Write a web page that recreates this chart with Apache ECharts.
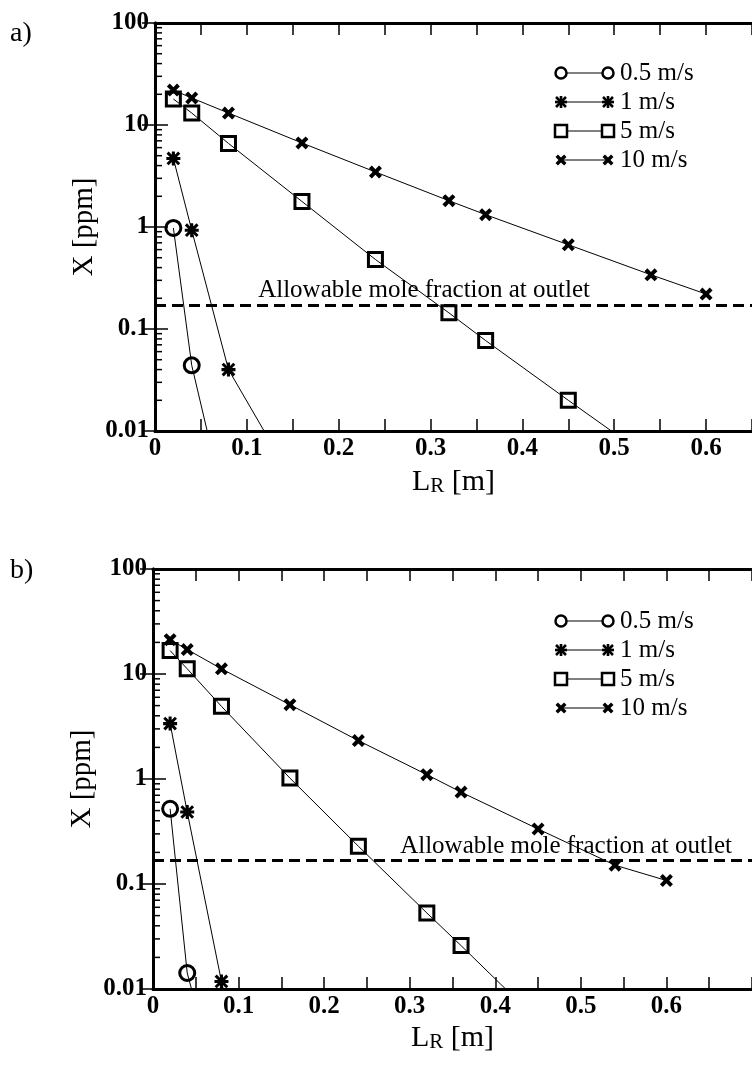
<!DOCTYPE html>
<html>
<head>
<meta charset="utf-8">
<script src="https://cdn.jsdelivr.net/npm/echarts@6/dist/echarts.min.js"></script>
<style>
  html, body { margin: 0; padding: 0; background: #fff; }
  #main { width: 752px; height: 1068px; }
</style>
</head>
<body>
<div id="main"></div>
<script>
// panel a) reactor length L_R [m] and mole fraction X [ppm]
const lr05a = [0.02, 0.04, 0.08];
const x05a = [0.98, 0.044, 0.0013];
const lr1a = [0.02, 0.04, 0.08, 0.16];
const x1a = [4.7, 0.93, 0.040, 0.0023];
const lr5a = [0.02, 0.04, 0.08, 0.16, 0.24, 0.32, 0.36, 0.45, 0.54];
const x5a = [18, 13.1, 6.6, 1.78, 0.48, 0.144, 0.077, 0.020, 0.0053];
const lr10a = [0.02, 0.04, 0.08, 0.16, 0.24, 0.32, 0.36, 0.45, 0.54, 0.6];
const x10a = [22, 18.4, 13.1, 6.67, 3.46, 1.81, 1.32, 0.67, 0.34, 0.22];

// panel b)
const lr05b = [0.02, 0.04, 0.06];
const x05b = [0.52, 0.0142, 0.0035];
const lr1b = [0.02, 0.04, 0.08, 0.16];
const x1b = [3.37, 0.485, 0.0118, 0.00002];
const lr5b = [0.02, 0.04, 0.08, 0.16, 0.24, 0.32, 0.36, 0.45];
const x5b = [16.7, 11.2, 4.92, 1.02, 0.229, 0.053, 0.0259, 0.005];
const lr10b = [0.02, 0.04, 0.08, 0.16, 0.24, 0.32, 0.36, 0.45, 0.54, 0.6];
const x10b = [21.2, 17.1, 11.2, 5.1, 2.32, 1.10, 0.75, 0.334, 0.151, 0.108];

const limitA = 0.175;
const limitB = 0.173;

const velocities = ['0.5 m/s', '1 m/s', '5 m/s', '10 m/s'];
const decades = [0.01, 0.1, 1, 10];
const minorTicks = [];
decades.forEach(d => [2, 3, 4, 5, 6, 7, 8, 9].forEach(k => minorTicks.push(+(d * k).toPrecision(2))));

const FONT = '"Liberation Serif", "DejaVu Serif", serif';

// marker outlines on a 0..10 box
const ASTER_PARTS = [
  [[3.9, 0], [6.1, 0], [6.1, 10], [3.9, 10]],
  [[0, 3.9], [10, 3.9], [10, 6.1], [0, 6.1]],
  [[1.6, 0.1], [9.9, 8.4], [8.4, 9.9], [0.1, 1.6]],
  [[9.9, 1.6], [1.6, 9.9], [0.1, 8.4], [8.4, 0.1]]
];
const CROSS_PTS = [[0, 2.2], [2.2, 0], [5, 2.8], [7.8, 0], [10, 2.2], [7.2, 5], [10, 7.8], [7.8, 10], [5, 7.2], [2.2, 10], [0, 7.8], [2.8, 5]];

function toPath(parts) {
  return 'path://' + parts.map(p => 'M' + p.map(q => q.join(' ')).join('L') + 'Z').join(' ');
}
const ASTER = toPath(ASTER_PARTS);
const CROSS = toPath([CROSS_PTS]);

const symbolStyles = [
  { symbol: 'circle', symbolSize: 15, itemStyle: { color: 'transparent', borderColor: '#000', borderWidth: 3 } },
  { symbol: ASTER, symbolSize: 14, itemStyle: { color: '#000', borderWidth: 0 } },
  { symbol: 'rect', symbolSize: 14, itemStyle: { color: 'transparent', borderColor: '#000', borderWidth: 3 } },
  { symbol: CROSS, symbolSize: 13, itemStyle: { color: '#000', borderWidth: 0 } }
];

function pairs(xs, ys) {
  return xs.map((x, i) => [x, ys[i]]);
}

function lineSeries(idx, panel, xs, ys) {
  return Object.assign({
    name: velocities[idx],
    type: 'line',
    xAxisIndex: panel * 2,
    yAxisIndex: panel * 2,
    data: pairs(xs, ys),
    lineStyle: { color: '#000', width: 1 },
    clip: true,
    z: 3
  }, symbolStyles[idx]);
}

function limitSeries(panel, value, dist) {
  return {
    type: 'line',
    xAxisIndex: panel * 2,
    yAxisIndex: panel * 2,
    data: [],
    markLine: {
      silent: true,
      symbol: 'none',
      lineStyle: { color: '#000', width: 3, type: [11, 6] },
      label: {
        show: true,
        position: 'insideEndTop',
        distance: dist,
        formatter: 'Allowable mole fraction at outlet',
        color: '#000',
        fontFamily: FONT,
        fontSize: 25
      },
      data: [{ yAxis: value }]
    }
  };
}

function minorTickSeries(panel) {
  return {
    type: 'custom',
    xAxisIndex: panel * 2,
    yAxisIndex: panel * 2,
    silent: true,
    z: 5,
    data: minorTicks.map(v => [0, v]),
    renderItem: (params, api) => {
      const p = api.coord([api.value(0), api.value(1)]);
      return {
        type: 'line',
        shape: { x1: p[0], y1: p[1], x2: p[0] + 7, y2: p[1] },
        style: { stroke: '#000', lineWidth: 1.5 }
      };
    }
  };
}

const lrName = {
  name: '{l|L}{s|R}{l| [m]}',
  nameLocation: 'middle',
  nameTextStyle: {
    rich: {
      l: { fontFamily: FONT, fontSize: 30, color: '#000', verticalAlign: 'bottom' },
      s: { fontFamily: FONT, fontSize: 21, color: '#000', verticalAlign: 'bottom' }
    }
  }
};

function xAxes(grid, max, gap) {
  const common = {
    type: 'value',
    gridIndex: grid,
    min: 0,
    max: max,
    interval: 0.1,
    splitLine: { show: false },
    axisLine: { lineStyle: { color: '#000', width: 3 } },
    axisTick: { inside: true, length: 12, lineStyle: { color: '#000', width: 1.5 } },
    minorTick: { show: true, splitNumber: 2, length: 12, lineStyle: { color: '#000', width: 1.5 } }
  };
  return [
    Object.assign({}, common, lrName, {
      position: 'bottom',
      nameGap: gap,
      axisLabel: {
        color: '#000', fontFamily: FONT, fontSize: 25, fontWeight: 'bold', margin: 5,
        showMaxLabel: false,
        formatter: v => String(+v.toFixed(2))
      }
    }),
    Object.assign({}, common, { position: 'top', axisLabel: { show: false } })
  ];
}

function yAxes(grid) {
  const common = {
    type: 'log',
    logBase: 10,
    gridIndex: grid,
    min: 0.01,
    max: 100,
    splitNumber: 4,
    splitLine: { show: false },
    axisLine: { lineStyle: { color: '#000', width: 3 } },
    axisTick: { inside: true, length: 13, lineStyle: { color: '#000', width: 1.5 } }
  };
  return [
    Object.assign({}, common, {
      position: 'left',
      name: 'X [ppm]',
      nameLocation: 'middle',
      nameGap: 56,
      nameMoveOverlap: false,
      nameTextStyle: { fontFamily: FONT, fontSize: 29, color: '#000' },
      axisLabel: {
        color: '#000', fontFamily: FONT, fontSize: 25, fontWeight: 'bold', margin: 6,
        formatter: v => String(+v.toPrecision(2))
      }
    }),
    Object.assign({}, common, { position: 'right', axisLabel: { show: false } })
  ];
}

function scaled(pts, cx, cy, size) {
  return pts.map(p => [cx - size / 2 + p[0] * size / 10, cy - size / 2 + p[1] * size / 10]);
}

// legend drawn as marker - line - marker rows like the original figure
function legendRows(top) {
  const els = [];
  const x1 = 561, x2 = 608;
  velocities.forEach((name, i) => {
    const y = top + i * 29;
    els.push({ type: 'line', shape: { x1: x1, y1: y, x2: x2, y2: y }, style: { stroke: '#000', lineWidth: 1 } });
    [x1, x2].forEach(cx => {
      if (i === 0) {
        els.push({ type: 'circle', shape: { cx: cx, cy: y, r: 5.5 }, style: { fill: '#fff', stroke: '#000', lineWidth: 2.5 } });
      } else if (i === 1) {
        ASTER_PARTS.forEach(part => {
          els.push({ type: 'polygon', shape: { points: scaled(part, cx, y, 12) }, style: { fill: '#000' } });
        });
      } else if (i === 2) {
        els.push({ type: 'rect', shape: { x: cx - 6, y: y - 6, width: 12, height: 12 }, style: { fill: '#fff', stroke: '#000', lineWidth: 2.5 } });
      } else {
        els.push({ type: 'polygon', shape: { points: scaled(CROSS_PTS, cx, y, 11) }, style: { fill: '#000' } });
      }
    });
    els.push({
      type: 'text', x: 620, y: y,
      style: { text: name, fill: '#000', font: '25px ' + FONT, verticalAlign: 'middle' }
    });
  });
  return els;
}

const chart = echarts.init(document.getElementById('main'), null, { renderer: 'canvas' });

chart.setOption({
  animation: false,
  backgroundColor: '#fff',
  grid: [
    { left: 155, top: 23, width: 603, height: 408 },
    { left: 153, top: 569, width: 604, height: 420 }
  ],
  xAxis: xAxes(0, 0.65, 36).concat(xAxes(1, 0.7, 34)),
  yAxis: yAxes(0).concat(yAxes(1)),
  series: [
    lineSeries(0, 0, lr05a, x05a),
    lineSeries(1, 0, lr1a, x1a),
    lineSeries(2, 0, lr5a, x5a),
    lineSeries(3, 0, lr10a, x10a),
    limitSeries(0, limitA, [162, 3]),
    minorTickSeries(0),
    lineSeries(0, 1, lr05b, x05b),
    lineSeries(1, 1, lr1b, x1b),
    lineSeries(2, 1, lr5b, x5b),
    lineSeries(3, 1, lr10b, x10b),
    limitSeries(1, limitB, [20, 1]),
    minorTickSeries(1)
  ],
  graphic: [
    { type: 'text', x: 10, y: 20, style: { text: 'a)', fill: '#000', font: '28px ' + FONT } },
    { type: 'text', x: 10, y: 557, style: { text: 'b)', fill: '#000', font: '28px ' + FONT } }
  ].concat(legendRows(73), legendRows(621))
});
</script>
</body>
</html>
